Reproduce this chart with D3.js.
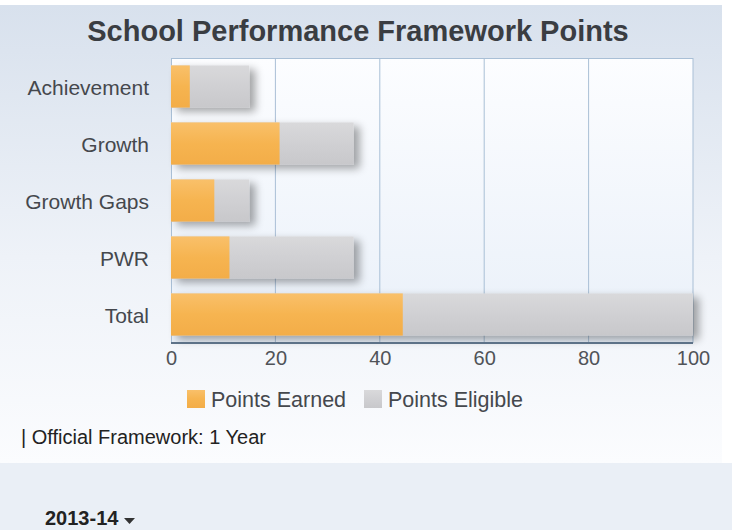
<!DOCTYPE html>
<html>
<head>
<meta charset="utf-8">
<script src="https://cdn.jsdelivr.net/npm/d3@7"></script>
<style>
  body { margin: 0; background: #fff; }
  svg { display: block; font-family: "Liberation Sans", Arial, sans-serif; }
</style>
</head>
<body>
<svg id="chart" width="732" height="530"></svg>
<script>
var categories = ["Achievement", "Growth", "Growth Gaps", "PWR", "Total"];
var pointsEarned = [3.6, 20.8, 8.3, 11.2, 44.4];
var pointsEligible = [15, 35, 15, 35, 100];
var xTicks = [0, 20, 40, 60, 80, 100];
var legendLabels = ["Points Earned", "Points Eligible"];

var data = categories.map(function(c, i) {
    return {name: c, earned: pointsEarned[i], eligible: pointsEligible[i]};
});

var margin = {top: 58, right: 39, bottom: 187, left: 171},
    width = 732 - margin.left - margin.right,
    height = 530 - margin.top - margin.bottom;

var root = d3.select("#chart");
var defs = root.append("defs");

var bg = defs.append("linearGradient").attr("id", "bg").attr("x1", 0).attr("y1", 0).attr("x2", 0).attr("y2", 1);
bg.append("stop").attr("offset", "0%").attr("stop-color", "#d8e1ed");
bg.append("stop").attr("offset", "55%").attr("stop-color", "#eef2f8");
bg.append("stop").attr("offset", "100%").attr("stop-color", "#fbfcfe");

var plotBg = defs.append("linearGradient").attr("id", "plotbg").attr("x1", 0).attr("y1", 0).attr("x2", 0).attr("y2", 1);
plotBg.append("stop").attr("offset", "0%").attr("stop-color", "#fcfdff");
plotBg.append("stop").attr("offset", "100%").attr("stop-color", "#e9f0f9");

var orangeG = defs.append("linearGradient").attr("id", "orange").attr("x1", 0).attr("y1", 0).attr("x2", 0).attr("y2", 1);
orangeG.append("stop").attr("offset", "0%").attr("stop-color", "#f9c06a");
orangeG.append("stop").attr("offset", "50%").attr("stop-color", "#f6b450");
orangeG.append("stop").attr("offset", "100%").attr("stop-color", "#f3ad48");

var greyG = defs.append("linearGradient").attr("id", "grey").attr("x1", 0).attr("y1", 0).attr("x2", 0).attr("y2", 1);
greyG.append("stop").attr("offset", "0%").attr("stop-color", "#d9d9db");
greyG.append("stop").attr("offset", "50%").attr("stop-color", "#d0d0d3");
greyG.append("stop").attr("offset", "100%").attr("stop-color", "#c8c8cb");

var shadow = defs.append("filter").attr("id", "shadow").attr("x", "-10%").attr("y", "-30%").attr("width", "130%").attr("height", "170%");
shadow.append("feGaussianBlur").attr("in", "SourceAlpha").attr("stdDeviation", 4);
shadow.append("feOffset").attr("dx", 6).attr("dy", 4).attr("result", "b");
shadow.append("feComponentTransfer").append("feFuncA").attr("type", "linear").attr("slope", 0.35);
var merge = shadow.append("feMerge");
merge.append("feMergeNode");
merge.append("feMergeNode").attr("in", "SourceGraphic");

// panel backgrounds
root.append("rect").attr("x", 0).attr("y", 5).attr("width", 722).attr("height", 458).attr("fill", "url(#bg)");
root.append("rect").attr("x", 0).attr("y", 463).attr("width", 732).attr("height", 67).attr("fill", "#eaeff6");

root.append("text")
    .attr("x", 358)
    .attr("y", 41)
    .attr("text-anchor", "middle")
    .style("font-size", "29px")
    .style("font-weight", "bold")
    .attr("fill", "#3a3d42")
    .text("School Performance Framework Points");

var svg = root.append("g")
    .attr("transform", "translate(" + margin.left + "," + margin.top + ")");

var x = d3.scaleLinear().domain([0, 100]).range([0, width]);
var y = d3.scaleBand().domain(categories).range([0, height]).paddingInner(0.26).paddingOuter(0.13);

svg.append("rect").attr("width", width).attr("height", height).attr("fill", "url(#plotbg)");

svg.append("g")
    .selectAll("line")
    .data(xTicks.slice(1))
    .enter().append("line")
    .attr("x1", function(d) { return x(d); })
    .attr("x2", function(d) { return x(d); })
    .attr("y1", 0)
    .attr("y2", height)
    .attr("stroke", "#a9bfd6")
    .attr("stroke-width", 1);

svg.append("line").attr("x1", 0).attr("x2", width).attr("y1", 0.5).attr("y2", 0.5)
    .attr("stroke", "#a9bfd6");
svg.append("line").attr("x1", 0.5).attr("x2", 0.5).attr("y1", 0).attr("y2", height)
    .attr("stroke", "#a9bfd6");

var bars = svg.append("g").attr("filter", "url(#shadow)");
bars.selectAll(".elig")
    .data(data)
    .enter().append("rect")
    .attr("class", "elig")
    .attr("x", 0)
    .attr("y", function(d) { return y(d.name); })
    .attr("width", function(d) { return x(d.eligible); })
    .attr("height", y.bandwidth())
    .attr("fill", "url(#grey)");

svg.selectAll(".earn")
    .data(data)
    .enter().append("rect")
    .attr("class", "earn")
    .attr("x", 0)
    .attr("y", function(d) { return y(d.name); })
    .attr("width", function(d) { return x(d.earned); })
    .attr("height", y.bandwidth())
    .attr("fill", "url(#orange)");

svg.append("line").attr("x1", 0).attr("x2", width).attr("y1", height).attr("y2", height)
    .attr("stroke", "#5d7288").attr("stroke-width", 2);

var xAxis = svg.append("g")
    .attr("transform", "translate(0," + height + ")")
    .call(d3.axisBottom(x).tickValues(xTicks).tickSize(0).tickPadding(8));
xAxis.select(".domain").remove();
xAxis.selectAll("text")
    .style("font-size", "20px")
    .attr("fill", "#505358");

var yAxis = svg.append("g")
    .call(d3.axisLeft(y).tickSize(0).tickPadding(22));
yAxis.select(".domain").remove();
yAxis.selectAll("text")
    .style("font-size", "21px")
    .attr("dy", "0.4em")
    .attr("fill", "#45484d");

// legend
var legend = root.append("g").attr("transform", "translate(187,390)");
var legendFills = ["url(#orange)", "url(#grey)"];
var legendX = [0, 177];
legendLabels.forEach(function(l, i) {
    legend.append("rect")
        .attr("x", legendX[i])
        .attr("y", 0)
        .attr("width", 18)
        .attr("height", 18)
        .attr("fill", legendFills[i]);
    legend.append("text")
        .attr("x", legendX[i] + 24)
        .attr("y", 17)
        .style("font-size", "21.5px")
        .attr("fill", "#45484d")
        .text(l);
});

root.append("text")
    .attr("x", 21)
    .attr("y", 444)
    .style("font-size", "20px")
    .attr("fill", "#222")
    .text("| Official Framework: 1 Year");

root.append("text")
    .attr("x", 45)
    .attr("y", 525)
    .style("font-size", "20px")
    .style("font-weight", "bold")
    .attr("fill", "#222")
    .text("2013-14");
root.append("path")
    .attr("d", "M124,518 L135,518 L129.5,524 Z")
    .attr("fill", "#333");
</script>
</body>
</html>
